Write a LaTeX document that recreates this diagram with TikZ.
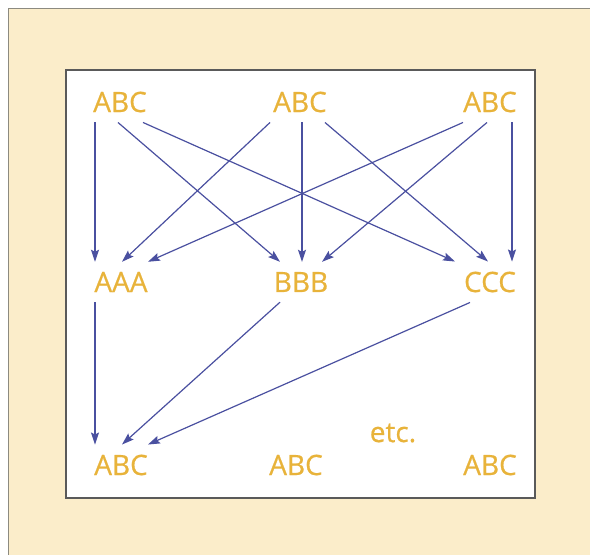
\documentclass[tikz,border=0pt]{standalone}
\usepackage{fontspec}
\setmainfont{Open Sans}
\newfontfamily\labfont[FakeBold=0.6]{Open Sans}
\usepackage{tikz}
\usetikzlibrary{arrows.meta}
\definecolor{pagecream}{HTML}{FBEDCA}
\definecolor{framegray}{HTML}{8C8A80}
\definecolor{boxgray}{HTML}{5A5A5A}
\definecolor{labgold}{HTML}{E8B33A}
\definecolor{linkblue}{HTML}{4A50A0}
\tikzset{
  outerframe/.style = {fill=pagecream, draw=framegray, line width=1pt},
  innerbox/.style   = {fill=white, draw=boxgray, line width=1.5pt},
  lab/.style        = {text=labgold, font=\labfont\fontsize{28}{30}\selectfont,
                       inner xsep=0pt, inner ysep=10pt},
  link/.style       = {draw=linkblue, line width=1.2pt,
                       -{Stealth[length=12pt, width=8pt, inset=2pt]}},
}

\begin{document}
\begin{tikzpicture}[x=1pt, y=-1pt]
    \useasboundingbox (0,0) rectangle (590,555);
    \path[outerframe] (8,8) rectangle (600,565);
    \path[innerbox] (66,70) rectangle (535,498);
    % top row
    \node[lab] (tA) at (120,102) {ABC};
    \node[lab] (tB) at (300,102) {ABC};
    \node[lab] (tC) at (490,102) {ABC};
    % middle row
    \node[lab] (aaa) at (121,282) {AAA};
    \node[lab] (bbb) at (301,282) {BBB};
    \node[lab] (ccc) at (490,282) {CCC};
    % bottom row
    \node[lab] (bA) at (121,465) {ABC};
    \node[lab] (bB) at (296,465) {ABC};
    \node[lab] (bC) at (490,465) {ABC};
    \node[lab, inner ysep=0pt] (etc) at (393,433) {etc.};
    % top to middle
    \draw[link] ([xshift=-25pt]tA.south) -- ([xshift=-26pt]aaa.north);
    \draw[link] ([xshift=-2pt]tA.south)  -- ([xshift=-21pt]bbb.north);
    \draw[link] ([xshift=23pt]tA.south)  -- ([xshift=-35pt]ccc.north);
    \draw[link] ([xshift=-30pt]tB.south) -- ([xshift=1pt]aaa.north);
    \draw[link] ([xshift=2pt]tB.south)   -- ([xshift=1pt]bbb.north);
    \draw[link] ([xshift=25pt]tB.south)  -- ([xshift=-2pt]ccc.north);
    \draw[link] ([xshift=-27pt]tC.south) -- ([xshift=27pt]aaa.north);
    \draw[link] ([xshift=-3pt]tC.south)  -- ([xshift=21pt]bbb.north);
    \draw[link] ([xshift=22pt]tC.south)  -- ([xshift=22pt]ccc.north);
    % middle to bottom
    \draw[link] ([xshift=-26pt]aaa.south) -- ([xshift=-26pt]bA.north);
    \draw[link] ([xshift=-21pt]bbb.south) -- ([xshift=1pt]bA.north);
    \draw[link] ([xshift=-20pt]ccc.south) -- ([xshift=27pt]bA.north);
\end{tikzpicture}
\end{document}
